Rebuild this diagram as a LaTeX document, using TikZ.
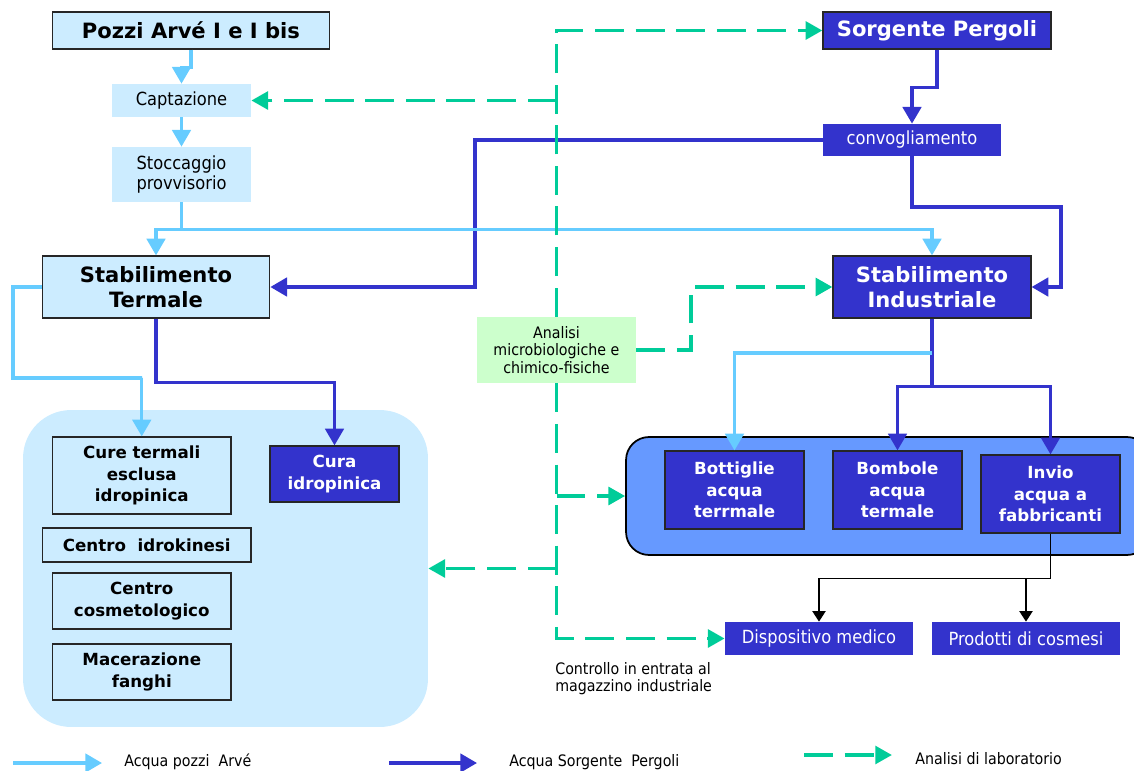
\documentclass[tikz,border=0pt]{standalone}
\usepackage{fontspec}
\setmainfont{DejaVu Sans Condensed}[BoldFont={DejaVu Sans Bold}]
\usetikzlibrary{arrows.meta}
\definecolor{celeste}{HTML}{CCECFF}
\definecolor{azzurro}{HTML}{66CCFF}
\definecolor{blu}{HTML}{3333CC}
\definecolor{verde}{HTML}{00CC99}
\definecolor{verdino}{HTML}{CCFFCC}
\definecolor{bluind}{HTML}{6699FF}
\newcommand{\grande}{\fontsize{12}{14.4}\selectfont\bfseries}
\newcommand{\medio}{\fontsize{9.5}{12.3}\selectfont\bfseries}
\newcommand{\normale}{\fontsize{10.3}{11.5}\selectfont}
\newcommand{\piccolo}{\fontsize{9}{9.8}\selectfont}
\tikzset{
  box/.style={align=center, inner sep=0pt},
  chiaro/.style={box, draw=black!85, line width=0.7pt, fill=celeste},
  scuro/.style={box, draw=black!85, line width=0.7pt, fill=blu, text=white},
  fase/.style={box, fill=celeste, font=\normale},
  fasescura/.style={box, fill=blu, text=white, font=\normale},
  arve/.style={draw=azzurro, line width=1.9pt, -{Triangle[width=10.5pt,length=9.5pt]}},
  pergoli/.style={draw=blu, line width=1.9pt, -{Triangle[width=10.5pt,length=9.5pt]}},
  lab/.style={draw=verde, line width=2.2pt, dash pattern=on 16.5pt off 6.6pt, -{Triangle[width=10pt,length=9.5pt]}},
  uscita/.style={draw=black, line width=0.85pt, -{Triangle[width=7.5pt,length=6pt]}},
}

\begin{document}
\begin{tikzpicture}[x=0.02cm, y=-0.02cm]
   \useasboundingbox (0,0) rectangle (1134,771);
   % aree di fondo
   \node (reparti) [box, fill=celeste, rounded corners=0.96cm, minimum width=8.1cm, minimum height=6.34cm] at (225.5,568.5) {};
   \node (impianto) [box, draw=black, line width=1pt, fill=bluind, rounded corners=0.46cm, minimum width=10.48cm, minimum height=2.36cm] at (888,496) {};
   % nodi
   \node (pozzi) [chiaro, font=\grande, minimum width=5.53cm, minimum height=0.74cm] at (191,30.5) {Pozzi Arvé I e I bis};
   \node (capt) [fase, minimum width=2.78cm, minimum height=0.66cm] at (181.5,100.5) {Captazione};
   \node (stocc) [fase, minimum width=2.78cm, minimum height=1.1cm] at (181.5,174.5) {Stoccaggio\\provvisorio};
   \node (termale) [chiaro, font=\grande, minimum width=4.55cm, minimum height=1.24cm] at (156,287) {Stabilimento\\Termale};
   \node (sorgente) [scuro, font=\grande, minimum width=4.56cm, minimum height=0.74cm] at (937,30.5) {Sorgente Pergoli};
   \node (convo) [fasescura, minimum width=3.56cm, minimum height=0.64cm] at (912,140) {convogliamento};
   \node (industr) [scuro, font=\grande, minimum width=3.96cm, minimum height=1.24cm] at (932,287) {Stabilimento\\Industriale};
   \node (analisi) [box, fill=verdino, font=\piccolo, minimum width=3.18cm, minimum height=1.32cm] at (556.5,350) {Analisi\\microbiologiche e\\chimico-fisiche};
   \node (cure) [chiaro, font=\medio, minimum width=3.57cm, minimum height=1.54cm] at (141.75,475.5) {Cure termali\\esclusa\\idropinica};
   \node (idrokinesi) [chiaro, font=\medio, minimum width=4.17cm, minimum height=0.68cm] at (146.75,545) {Centro\ \ idrokinesi};
   \node (cosmetologico) [chiaro, font=\medio, minimum width=3.57cm, minimum height=1.12cm] at (141.75,601) {Centro\\cosmetologico};
   \node (fanghi) [chiaro, font=\medio, minimum width=3.57cm, minimum height=1.12cm] at (141.75,672) {Macerazione\\fanghi};
   \node (idropinica) [scuro, font=\medio, minimum width=2.58cm, minimum height=1.12cm] at (334.5,474) {Cura\\idropinica};
   \node (bottiglie) [scuro, font=\medio, minimum width=2.78cm, minimum height=1.56cm] at (734.5,490) {Bottiglie\\acqua\\terrmale};
   \node (bombole) [scuro, font=\medio, minimum width=2.58cm, minimum height=1.56cm] at (897.5,490) {Bombole\\acqua\\termale};
   \node (invio) [scuro, font=\medio, minimum width=2.78cm, minimum height=1.56cm] at (1050.5,494) {Invio\\acqua a\\fabbricanti};
   \node (dispositivo) [fasescura, minimum width=3.76cm, minimum height=0.66cm] at (819,638.5) {Dispositivo medico};
   \node (prodotti) [fasescura, minimum width=3.76cm, minimum height=0.66cm] at (1026,638.5) {Prodotti di cosmesi};
   \node (controllo) [anchor=north west, align=left, inner sep=0pt, font=\piccolo] at (555,662) {Controllo in entrata al\\magazzino industriale};
   % acqua Sorgente Pergoli
   \draw[pergoli] (sorgente.south) -- ++(0,38) -| (convo.north);
   \draw[pergoli] (convo.west) -- (475,140) |- (termale.east);
   \draw[pergoli] (convo.south) |- (1061,207) |- (industr.east);
   \draw[pergoli] (termale.south) -- ++(0,64) -| (idropinica.north);
   \draw[pergoli] (industr.south) -- ++(0,68) coordinate (fork) -| (bombole.north);
   \draw[pergoli] (fork) -| (invio.north);
   % acqua pozzi Arve
   \draw[arve] (pozzi.south) -- ++(0,18) -| (capt.north);
   \draw[arve] (capt) -- (stocc);
   \draw[arve] (stocc.south) -- ++(0,27) coordinate (split) -| (termale.north);
   \draw[arve] (split) -| (industr.north);
   \draw[arve] (termale.west) -- (13,287) |- (142,378) -| (cure.north);
   \draw[arve] (industr.south |- 0,353) -| (bottiglie.north);
   % uscite
   \draw[uscita] (invio.south) -- ++(0,45) coordinate (bif) -| (dispositivo.north);
   \draw[uscita] (bif) -| (prodotti.north);
   % analisi di laboratorio
   \draw[lab] (analisi.north) |- (sorgente.west);
   \draw[lab] (analisi.north |- capt.east) -- (capt.east);
   \draw[lab] (analisi.south) |- (dispositivo.west);
   \draw[lab] (analisi.south |- impianto.west) -- (impianto.west);
   \draw[lab] (analisi.south |- reparti.east) -- (reparti.east);
   \draw[lab] (analisi.east) -- (691,350) |- (industr.west);
   % legenda
   \coordinate (a1) at (13,763);
   \coordinate (a2) at (102,763);
   \coordinate (b1) at (389,763);
   \coordinate (b2) at (477,763);
   \coordinate (c1) at (804,755);
   \coordinate (c2) at (892,755);
   \draw[arve] (a1) -- (a2);
   \draw[pergoli] (b1) -- (b2);
   \draw[lab] (c1) -- (c2);
   \node (la) [anchor=west, inner sep=0pt, font=\piccolo] at (124,762) {Acqua pozzi\ \ Arvé};
   \node (lb) [anchor=west, inner sep=0pt, font=\piccolo] at (509,762) {Acqua Sorgente\ \ Pergoli};
   \node (lc) [anchor=west, inner sep=0pt, font=\piccolo] at (915,759) {Analisi di laboratorio};
\end{tikzpicture}
\end{document}
